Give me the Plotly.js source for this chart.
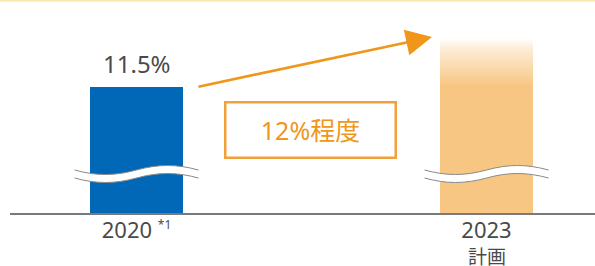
<!DOCTYPE html>
<html>
<head>
<meta charset="utf-8">
<script src="https://cdn.plot.ly/plotly-3.0.1.min.js"></script>
<style>
  html, body { margin: 0; padding: 0; background: #ffffff; }
  #chart { width: 595px; height: 266px; }
</style>
</head>
<body>
<div id="chart"></div>
<script>
// ---- data ----
const categories = ["2020", "2023"];
const tickLabels = ["2020 <sup><span style=\"font-size:12px\">*1</span></sup>", "2023"];
const subLabels = ["", "計画"];
const values = [11.5, 12.0];
const valueLabels = ["11.5%", ""];
const targetLabel = "12%程度";

// ---- style ----
const BLUE = "#0068b7";
const ORANGE_BAR = "#f8c683";
const ORANGE = "#f0961a";
const BOX_ORANGE = "#f2a13a";
const TEXT_GREY = "#4a4a4a";
const FONT = "'Noto Sans', 'Noto Sans CJK JP', sans-serif";

const W = 595, H = 266;
const mL = 10, mR = 0, mT = 0, mB = 53;
const plotW = W - mL - mR, plotH = H - mT - mB;
const pxPerX = 350;            // pixels per category step
const pxPerY = 98;             // pixels per percentage point (broken axis)
const firstCenterPx = 136.5 - mL;
const xMin = -firstCenterPx / pxPerX;
const xMax = xMin + plotW / pxPerX;
const yMin = values[0] - 126 / pxPerY;
const yMax = yMin + plotH / pxPerY;
const xIdx = categories.map((c, i) => i);
const barWidth = 93 / pxPerX;

// break marks (wavy white bands), built around each bar center
const breakLevel = yMin + 39 / pxPerY;
function waveCurve(cx, offPx, reverse) {
  const half = 62, a = 22, Y = 6;   // pixel geometry
  const P = (dx, dy) => [cx + dx / pxPerX, breakLevel - (dy + offPx) / pxPerY];
  const pts = [P(-half, 0), P(-half + a, Y), P(-a, Y), P(0, 0), P(a, -Y), P(half - a, -Y), P(half, 0)];
  const f = p => p[0].toFixed(5) + "," + p[1].toFixed(5);
  if (!reverse) {
    return "M" + f(pts[0]) + " C" + f(pts[1]) + " " + f(pts[2]) + " " + f(pts[3]) +
           " C" + f(pts[4]) + " " + f(pts[5]) + " " + f(pts[6]);
  }
  return "L" + f(pts[6]) + " C" + f(pts[5]) + " " + f(pts[4]) + " " + f(pts[3]) +
         " C" + f(pts[2]) + " " + f(pts[1]) + " " + f(pts[0]);
}
const shapes = [];
xIdx.forEach(cx => {
  shapes.push({type: "path", xref: "x", yref: "y", layer: "above",
    path: waveCurve(cx, -4, false) + " " + waveCurve(cx, 4, true) + " Z",
    fillcolor: "#ffffff", line: {width: 0}});
  shapes.push({type: "path", xref: "x", yref: "y", layer: "above",
    path: waveCurve(cx, -4, false), line: {color: "#8a8a8a", width: 1}});
  shapes.push({type: "path", xref: "x", yref: "y", layer: "above",
    path: waveCurve(cx, 4, false), line: {color: "#8a8a8a", width: 1}});
});
// thin yellow rule at the very top
shapes.push({type: "line", xref: "paper", yref: "paper", x0: -mL / plotW, x1: 1, y0: 0.997, y1: 0.997,
  line: {color: "#fbe9b3", width: 2}});

const traces = [{
  type: "bar",
  x: xIdx,
  y: values,
  width: barWidth,
  marker: {color: [BLUE, ORANGE_BAR], line: {width: 0}},
  hoverinfo: "skip"
}];

const annotations = [];
valueLabels.forEach((t, i) => {
  if (!t) return;
  annotations.push({x: xIdx[i], y: values[i], xref: "x", yref: "y", text: t,
    showarrow: false, yanchor: "bottom", yshift: 5,
    font: {family: FONT, size: 24, color: TEXT_GREY}});
});
subLabels.forEach((t, i) => {
  if (!t) return;
  annotations.push({x: xIdx[i], y: 0, xref: "x", yref: "paper", text: t,
    showarrow: false, yanchor: "middle", yshift: -44,
    font: {family: FONT, size: 19, color: TEXT_GREY}});
});
// target box
annotations.push({xref: "paper", yref: "paper", x: (310 - mL) / plotW, y: (mT + plotH - 129.5) / plotH,
  text: targetLabel, showarrow: false, xanchor: "center", yanchor: "middle",
  width: 168, height: 53, borderpad: 0, bordercolor: BOX_ORANGE, borderwidth: 2.5,
  font: {family: FONT, size: 25, color: ORANGE}});
// trend arrow
annotations.push({xref: "paper", yref: "paper", x: (432 - mL) / plotW, y: (mT + plotH - 37) / plotH,
  ax: 197 - 432, ay: 87 - 37, axref: "pixel", ayref: "pixel", text: "", showarrow: true,
  arrowhead: 2, arrowsize: 2, arrowwidth: 2.6, arrowcolor: ORANGE, standoff: 0});

const layout = {
  width: W, height: H,
  margin: {l: mL, r: mR, t: mT, b: mB, pad: 0},
  paper_bgcolor: "#ffffff", plot_bgcolor: "#ffffff",
  showlegend: false,
  font: {family: FONT, color: TEXT_GREY},
  xaxis: {type: "linear", range: [xMin, xMax], tickvals: xIdx, ticktext: tickLabels,
    showgrid: false, zeroline: false, showline: true, linecolor: "#7a7a7a", linewidth: 1.5,
    ticks: "", ticklabelstandoff: -3, tickfont: {family: FONT, size: 22, color: TEXT_GREY}, fixedrange: true},
  yaxis: {range: [yMin, yMax], visible: false, showgrid: false, zeroline: false, fixedrange: true},
  shapes: shapes,
  annotations: annotations,
  bargap: 0
};

Plotly.newPlot("chart", traces, layout, {staticPlot: true, displayModeBar: false}).then(gd => {
  // fade the top of the planned bar
  const svg = gd.querySelector("svg.main-svg");
  const ns = "http://www.w3.org/2000/svg";
  let defs = svg.querySelector("defs");
  if (!defs) { defs = document.createElementNS(ns, "defs"); svg.insertBefore(defs, svg.firstChild); }
  const ya = gd._fullLayout.yaxis;
  const topPx = ya.l2p(values[1]);
  const g = document.createElementNS(ns, "linearGradient");
  g.setAttribute("id", "planFade");
  g.setAttribute("gradientUnits", "userSpaceOnUse");
  g.setAttribute("x1", "0"); g.setAttribute("x2", "0");
  g.setAttribute("y1", String(topPx)); g.setAttribute("y2", String(topPx + 48));
  [[0, 0.0], [0.2, 0.3], [1, 1]].forEach(([o, op]) => {
    const s = document.createElementNS(ns, "stop");
    s.setAttribute("offset", o);
    s.setAttribute("stop-color", ORANGE_BAR);
    s.setAttribute("stop-opacity", op);
    g.appendChild(s);
  });
  defs.appendChild(g);
  const paths = gd.querySelectorAll(".barlayer .point path");
  if (paths[1]) paths[1].style.fill = "url(#planFade)";
});
</script>
</body>
</html>
